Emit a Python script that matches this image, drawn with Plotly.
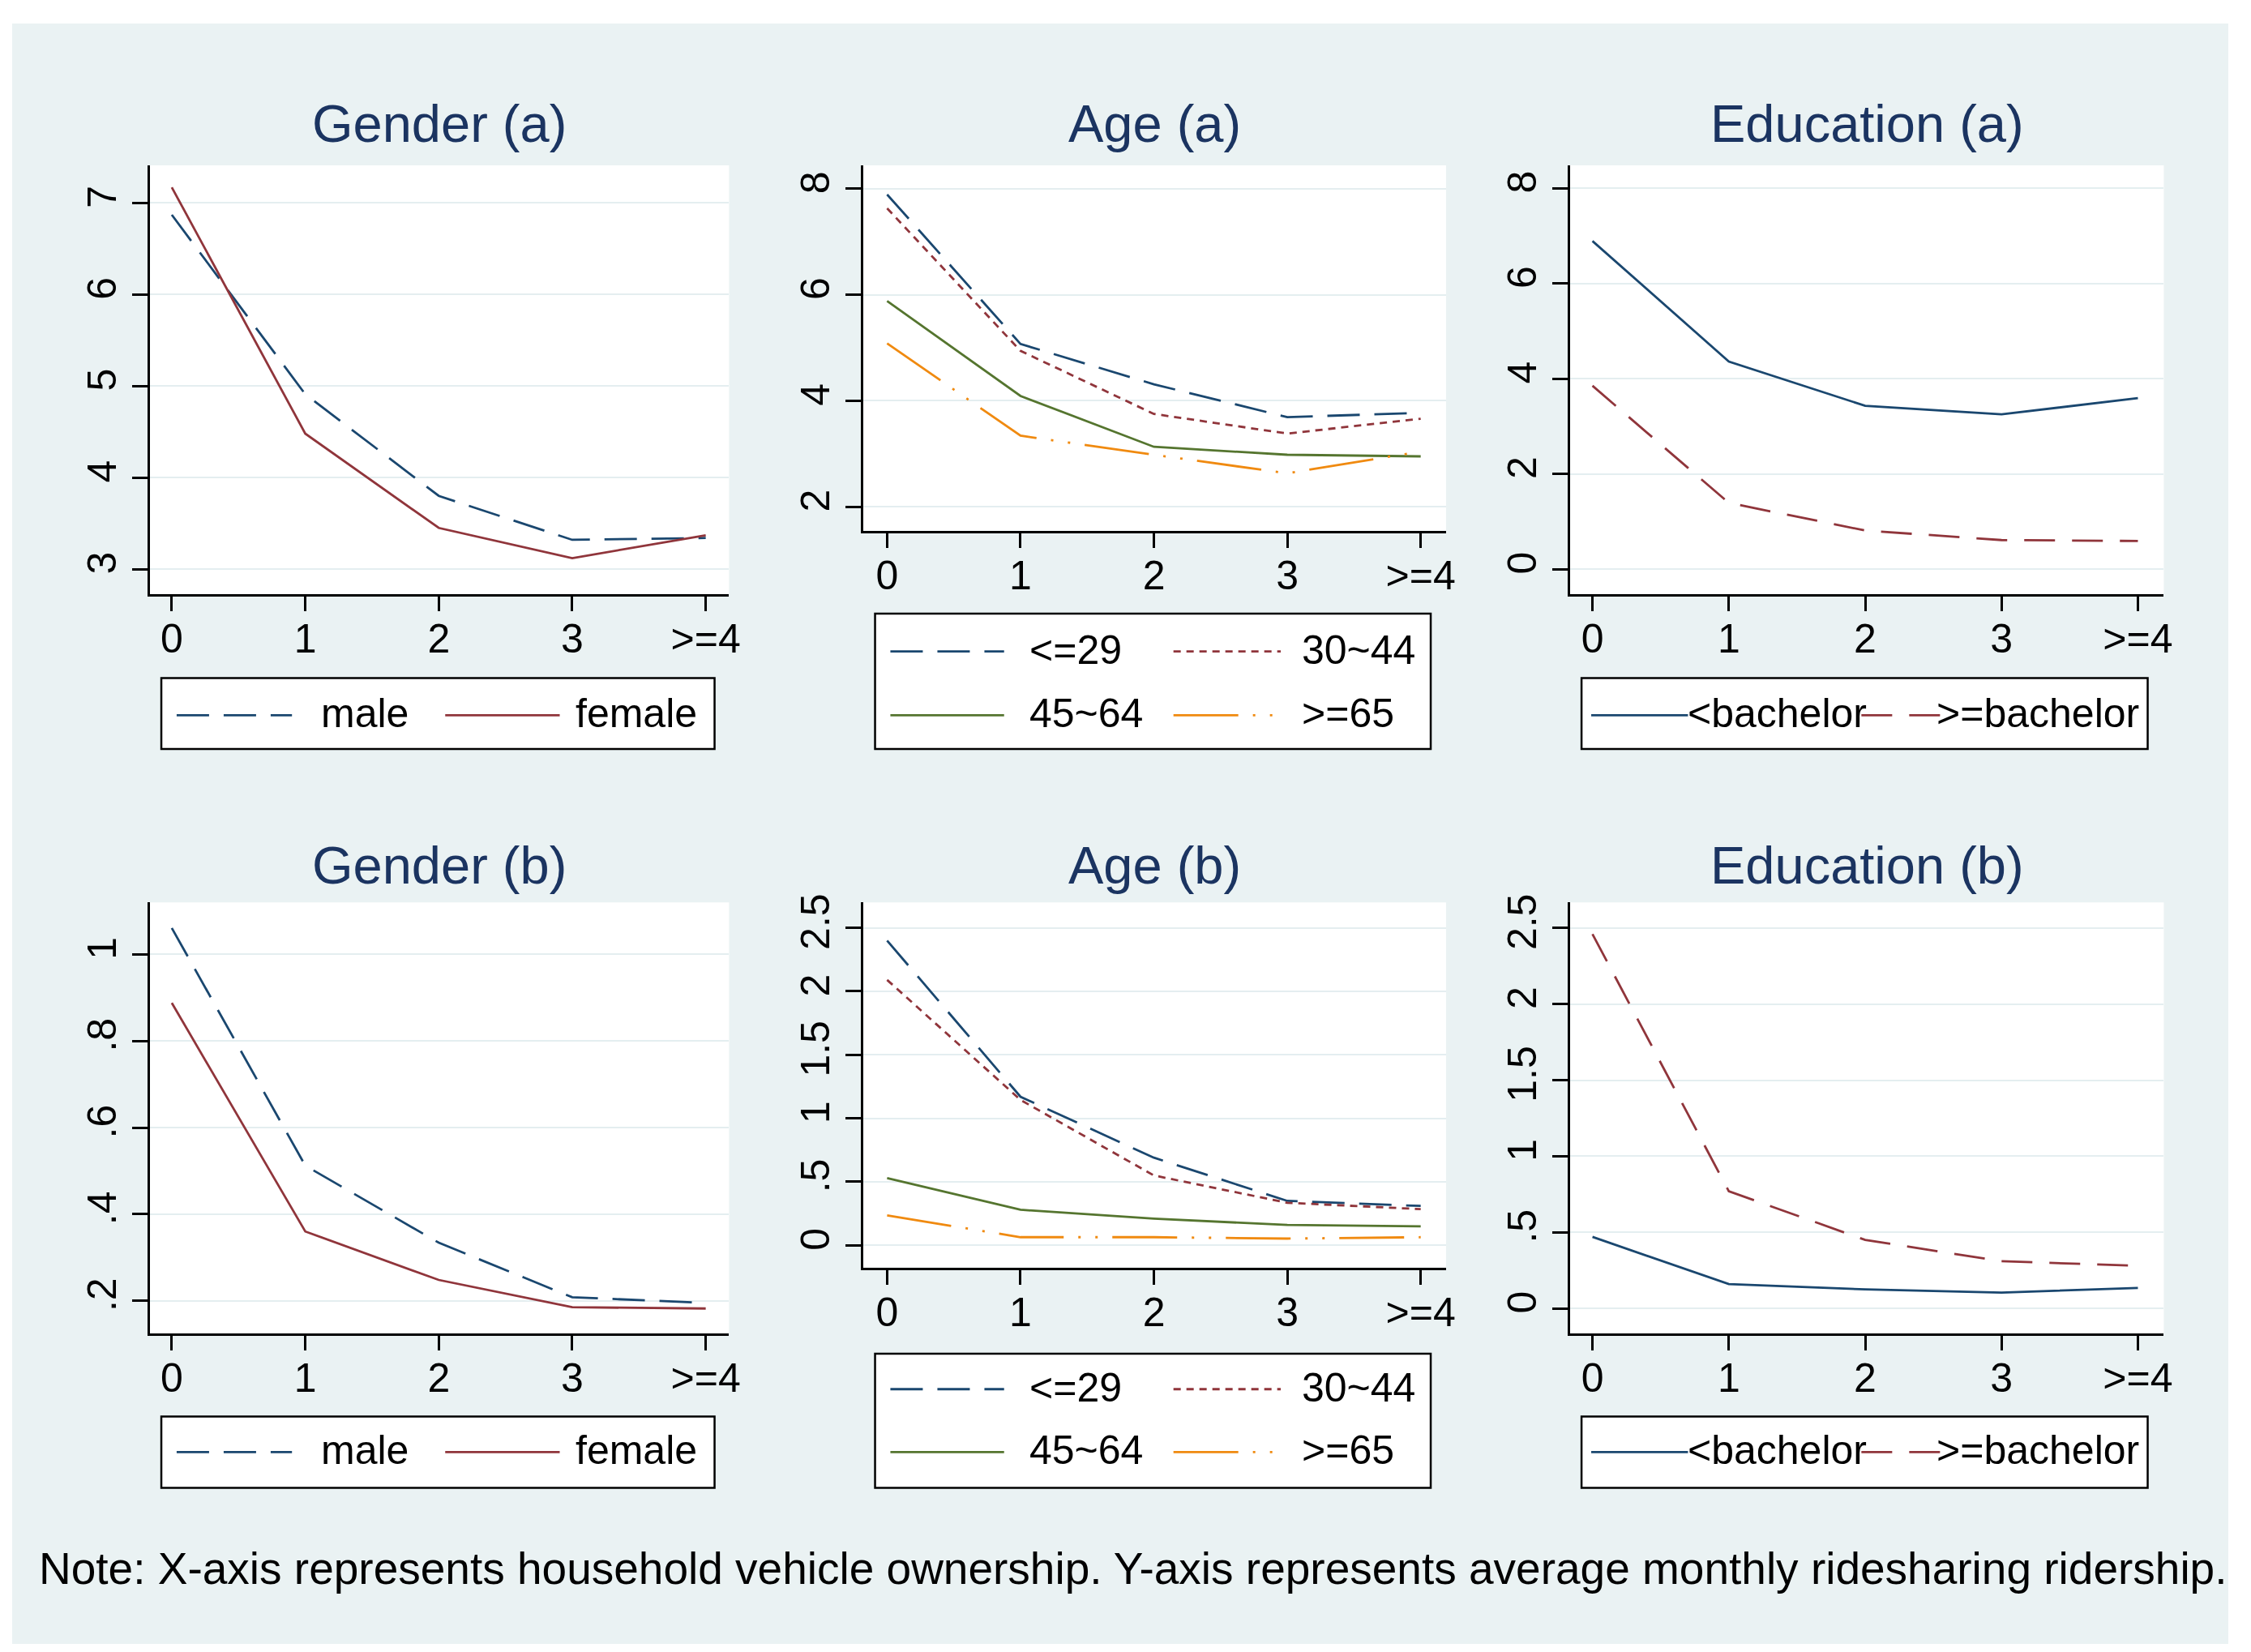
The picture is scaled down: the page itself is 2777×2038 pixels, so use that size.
import plotly.graph_objects as go

W, H = 2777, 2038          # reference canvas
OFF = 8                    # default page margin of the html body
FW, FH = W - 2 * OFF, H - 2 * OFF
FONT = "Liberation Sans, Arial, sans-serif"

# ---------------- data ----------------
x_labels = ["0", "1", "2", "3", ">=4"]
x_pos = [0, 1, 2, 3, 4]

gender_a_male = [6.87, 4.91, 3.80, 3.32, 3.34]
gender_a_female = [7.17, 4.48, 3.45, 3.12, 3.37]

age_a_le29 = [7.89, 5.07, 4.31, 3.69, 3.77]
age_a_30_44 = [7.63, 4.94, 3.75, 3.38, 3.66]
age_a_45_64 = [5.88, 4.09, 3.13, 2.98, 2.95]
age_a_ge65 = [5.08, 3.34, 2.98, 2.63, 3.04]

edu_a_lt_bachelor = [6.89, 4.36, 3.43, 3.25, 3.59]
edu_a_ge_bachelor = [3.85, 1.39, 0.81, 0.61, 0.59]

gender_b_male = [1.061, 0.512, 0.334, 0.208, 0.195]
gender_b_female = [0.888, 0.360, 0.248, 0.185, 0.182]

age_b_le29 = [2.40, 1.17, 0.69, 0.35, 0.31]
age_b_30_44 = [2.09, 1.145, 0.55, 0.335, 0.285]
age_b_45_64 = [0.53, 0.28, 0.21, 0.16, 0.15]
age_b_ge65 = [0.235, 0.064, 0.064, 0.053, 0.064]

edu_b_lt_bachelor = [0.47, 0.16, 0.125, 0.104, 0.134]
edu_b_ge_bachelor = [2.46, 0.77, 0.45, 0.31, 0.28]

gender_labels = ["male", "female"]
age_labels = ["<=29", "30~44", "45~64", ">=65"]
edu_labels = ["<bachelor", ">=bachelor"]

titles = ["Gender (a)", "Age (a)", "Education (a)", "Gender (b)", "Age (b)", "Education (b)"]

yt_gender_a = [3, 4, 5, 6, 7]
yl_gender_a = ["3", "4", "5", "6", "7"]
yt_age_a = [2, 4, 6, 8]
yl_age_a = ["2", "4", "6", "8"]
yt_edu_a = [0, 2, 4, 6, 8]
yl_edu_a = ["0", "2", "4", "6", "8"]
yt_gender_b = [0.2, 0.4, 0.6, 0.8, 1.0]
yl_gender_b = [".2", ".4", ".6", ".8", "1"]
yt_b = [0, 0.5, 1, 1.5, 2, 2.5]
yl_b = ["0", ".5", "1", "1.5", "2", "2.5"]

note = ("Note: X-axis represents household vehicle ownership. "
        "Y-axis represents average monthly ridesharing ridership.")

# ---------------- styles ----------------
NAVY = "#1A476F"
MAROON = "#90353B"
GREEN = "#55752F"
ORANGE = "#F08A10"
TITLE_C = "#1B3461"
BG = "#EAF2F3"
GRID = "#E4EEF0"

D_LONG = "40px,18px"
D_SHORT = "9px,7px"
D_LDOT = "80px,18px,3px,18px,3px,18px"
D_EDU = "38px,21px"

sty_gender = [(NAVY, D_LONG), (MAROON, "solid")]
sty_age = [(NAVY, D_LONG), (MAROON, D_SHORT), (GREEN, "solid"), (ORANGE, D_LDOT)]
sty_edu = [(NAVY, "solid"), (MAROON, D_EDU)]


def fx(p):
    return (p - OFF) / FW


def fy(p):
    return 1 - (p - OFF) / FH


GX = (186, 904)
AX = (1070, 1793)
EX = (1947, 2683)

panels = [
    dict(xd=GX, yd=(194, 725.5), xr=(-0.163, 4.175), yr=(2.73, 7.41),
         yt=yt_gender_a, yl=yl_gender_a,
         series=[gender_a_male, gender_a_female], labels=gender_labels, sty=sty_gender,
         title_y=142),
    dict(xd=AX, yd=(194, 647), xr=(-0.181, 4.19), yr=(1.55, 8.44),
         yt=yt_age_a, yl=yl_age_a,
         series=[age_a_le29, age_a_30_44, age_a_45_64, age_a_ge65], labels=age_labels, sty=sty_age,
         title_y=142),
    dict(xd=EX, yd=(194, 725.5), xr=(-0.163, 4.19), yr=(-0.52, 8.48),
         yt=yt_edu_a, yl=yl_edu_a,
         series=[edu_a_lt_bachelor, edu_a_ge_bachelor], labels=edu_labels, sty=sty_edu,
         title_y=142),
    dict(xd=GX, yd=(1108.3, 1642.6), xr=(-0.163, 4.175), yr=(0.125, 1.12),
         yt=yt_gender_b, yl=yl_gender_b,
         series=[gender_b_male, gender_b_female], labels=gender_labels, sty=sty_gender,
         title_y=1062),
    dict(xd=AX, yd=(1108.3, 1561), xr=(-0.181, 4.19), yr=(-0.174, 2.70),
         yt=yt_b, yl=yl_b,
         series=[age_b_le29, age_b_30_44, age_b_45_64, age_b_ge65], labels=age_labels, sty=sty_age,
         title_y=1062),
    dict(xd=EX, yd=(1108.3, 1642.6), xr=(-0.163, 4.19), yr=(-0.163, 2.668),
         yt=yt_b, yl=yl_b,
         series=[edu_b_lt_bachelor, edu_b_ge_bachelor], labels=edu_labels, sty=sty_edu,
         title_y=1062),
]

fig = go.Figure()
layout = {}
annotations = []
shapes = []

# light graph-region background inside a white page
shapes.append(dict(type="rect", xref="paper", yref="paper", layer="below",
                   x0=fx(15), x1=fx(2763), y0=fy(2028), y1=fy(18),
                   fillcolor=BG, line=dict(width=0)))
# white plot regions on top of it
for p in panels:
    shapes.append(dict(type="rect", xref="paper", yref="paper", layer="below",
                       x0=fx(p["xd"][0]), x1=fx(p["xd"][1]),
                       y0=fy(p["yd"][1]), y1=fy(p["yd"][0]),
                       fillcolor="white", line=dict(width=0)))

for i, p in enumerate(panels):
    k = "" if i == 0 else str(i + 1)
    for vals, lab, (col, dash) in zip(p["series"], p["labels"], p["sty"]):
        fig.add_trace(go.Scatter(
            x=x_pos, y=vals, mode="lines", name=lab, showlegend=False,
            line=dict(color=col, width=2.8, dash=dash),
            xaxis="x" + k, yaxis="y" + k, hoverinfo="skip"))
    layout["xaxis" + k] = dict(
        domain=[fx(p["xd"][0]), fx(p["xd"][1])], range=list(p["xr"]), anchor="y" + k,
        tickmode="array", tickvals=x_pos, ticktext=x_labels,
        ticks="outside", ticklen=19, tickwidth=2.5, tickcolor="black",
        ticklabelstandoff=-9,
        showline=True, linecolor="black", linewidth=2.5,
        showgrid=False, zeroline=False,
        tickfont=dict(family=FONT, size=50, color="black"))
    layout["yaxis" + k] = dict(
        domain=[fy(p["yd"][1]), fy(p["yd"][0])], range=list(p["yr"]), anchor="x" + k,
        tickmode="array", tickvals=p["yt"], ticktext=p["yl"], tickangle=-90,
        ticks="outside", ticklen=19, tickwidth=2.5, tickcolor="black",
        showline=True, linecolor="black", linewidth=2.5,
        showgrid=True, gridcolor=GRID, gridwidth=2, zeroline=False,
        tickfont=dict(family=FONT, size=50, color="black"))
    annotations.append(dict(
        text=titles[i], xref="paper", yref="paper",
        x=fx((p["xd"][0] + p["xd"][1]) / 2), y=fy(p["title_y"]),
        xanchor="center", yanchor="middle", showarrow=False,
        font=dict(family=FONT, size=65, color=TITLE_C)))

# ---------------- legends (boxes drawn below each panel) ----------------
# each: box (x0, x1, y0, y1), items: (series index, line x0, line x1, y, text x)
legend_specs = [
    (0, (200, 886, 830, 918), [(0, 219, 362, 876, 396), (1, 552, 694, 876, 712)]),
    (1, (1085, 1774, 750, 918), [(0, 1104, 1245, 797, 1274), (1, 1455, 1588, 797, 1612),
                                 (2, 1104, 1245, 876, 1274), (3, 1455, 1584, 876, 1612)]),
    (2, (1961, 2663, 830, 918), [(0, 1973, 2093, 876, 2091), (1, 2308, 2420, 876, 2399)]),
    (3, (200, 886, 1746, 1834.5), [(0, 219, 362, 1790, 396), (1, 552, 694, 1790, 712)]),
    (4, (1085, 1774, 1668, 1834.5), [(0, 1104, 1245, 1712, 1274), (1, 1455, 1588, 1712, 1612),
                                     (2, 1104, 1245, 1790, 1274), (3, 1455, 1584, 1790, 1612)]),
    (5, (1961, 2663, 1746, 1834.5), [(0, 1973, 2093, 1790, 2091), (1, 2308, 2420, 1790, 2399)]),
]

for pi, (bx0, bx1, by0, by1), items in legend_specs:
    p = panels[pi]
    shapes.append(dict(type="rect", xref="paper", yref="paper", layer="above",
                       x0=fx(bx0), x1=fx(bx1), y0=fy(by1), y1=fy(by0),
                       fillcolor="white", line=dict(color="black", width=2.5)))
    for si, lx0, lx1, ly, tx in items:
        col, dash = p["sty"][si]
        shapes.append(dict(type="line", xref="paper", yref="paper", layer="above",
                           x0=fx(lx0), x1=fx(lx1), y0=fy(ly), y1=fy(ly),
                           line=dict(color=col, width=2.8, dash=dash)))
        annotations.append(dict(
            text=p["labels"][si], xref="paper", yref="paper",
            x=fx(tx), y=fy(ly - 2), xanchor="left", yanchor="middle", showarrow=False,
            font=dict(family=FONT, size=50, color="black")))

annotations.append(dict(
    text=note, xref="paper", yref="paper", x=fx(46), y=fy(1934),
    xanchor="left", yanchor="middle", showarrow=False,
    font=dict(family=FONT, size=55, color="black")))

fig.update_layout(
    width=FW, height=FH, autosize=False,
    margin=dict(l=0, r=0, t=0, b=0, pad=0),
    paper_bgcolor="white", plot_bgcolor="white",
    showlegend=False, annotations=annotations, shapes=shapes,
    font=dict(family=FONT, color="black"),
    **layout)

fig.write_html("out.html")
